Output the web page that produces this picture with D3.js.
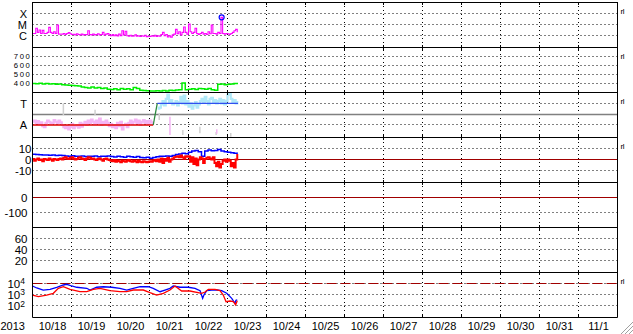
<!DOCTYPE html>
<html>
<head>
<meta charset="utf-8">
<script src="https://cdn.jsdelivr.net/npm/d3@7"></script>
<style>
body { margin: 0; background: #fff; }
svg { display: block; font-family: "Liberation Sans", Arial, sans-serif; }
</style>
</head>
<body>
<svg id="chart" width="633" height="334"></svg>
<script>
// ---- data (times are hours after 2013-10-18 00:00 UT) ----
var yearLabel = "2013";
var dayLabels = ["10/18", "10/19", "10/20", "10/21", "10/22", "10/23", "10/24", "10/25",
    "10/26", "10/27", "10/28", "10/29", "10/30", "10/31", "11/1"];

// x-ray flux, 1 hour steps, units of 1e-6 W/m2
var xrayTicks = [1e-4, 1e-5, 1e-6];
var xrayTickLabels = ["X", "M", "C"];
var xrayFlux = [1.6, 1.6, 4.6, 2.0, 3.2, 1.6, 3.0, 1.6, 1.6, 2.0,
    5.6, 2.0, 1.6, 2.3, 1.6, 9.0, 1.4, 1.34, 1.4, 1.6,
    1.3, 1.6, 1.9, 1.5, 1.3, 1.34, 1.2, 1.5, 1.3, 1.2,
    1.4, 1.2, 1.3, 1.25, 2.8, 1.3, 1.2, 1.4, 1.2, 1.3,
    1.5, 1.2, 1.3, 2.0, 1.2, 1.4, 1.6, 1.2, 1.0, 1.3,
    1.0, 1.2, 0.95, 1.4, 1.0, 2.8, 1.2, 2.5, 1.0, 0.9,
    1.1, 0.9, 0.95, 1.2, 0.9, 1.0, 0.85, 1.0, 0.9, 1.1,
    0.83, 0.9, 0.85, 1.0, 0.9, 1.1, 0.85, 1.0, 0.9, 1.3,
    2.0, 1.0, 1.3, 0.8, 1.0, 0.75, 1.2, 1.4, 3.7, 1.5,
    2.3, 1.2, 2.0, 6.0, 2.0, 1.4, 11, 2.3, 1.6, 2.0,
    4.6, 1.6, 1.3, 1.6, 2.0, 1.4, 1.6, 1.3, 2.3, 1.5,
    9.0, 1.6, 1.6, 1.4, 2.0, 1.6, 43, 1.6, 1.4, 1.6,
    1.5, 1.3, 1.6, 2.0, 2.8, 3.7, 2.0];

// solar wind speed, 2 hour steps
var windTicks = [700, 600, 500, 400];
var windSpeed = [395, 392, 398, 390, 395, 388, 392, 385, 390, 380,
    378, 375, 372, 370, 368, 355, 350, 345, 355, 345,
    350, 340, 345, 330, 328, 335, 325, 340, 330, 335,
    325, 350, 340, 320, 318, 315, 310, 312, 315, 310,
    318, 312, 320, 318, 322, 325, 400, 325, 330, 335,
    328, 340, 335, 330, 338, 325, 320, 385, 390, 380,
    385, 390, 395, 385];

// level panel: A = 1, T = 2
var levelTicks = [2, 1];
var levelTickLabels = ["T", "A"];
var levelMid = 1.5;
var levelHours = [0, 74.3, 76.8, 126.5];
var levelValues = [1, 1, 2, 2];
var pinkStart = 0;   // hourly from here
var pinkValues = [1.15, 1.2, 1.1, 1.18, 1.05, 1.12, 0.95, 0.9, 1.1, 1.2,
    1.15, 1.05, 1.1, 1.22, 1.15, 1.08, 1.2, 1.12, 1.0,
    0.9, 0.85, 0.95, 0.8, 0.9, 1.05, 0.85, 0.95, 1.0, 0.88, 1.1, 0.92, 1.05, 1.15, 1.0,
    1.2, 1.1, 1.25, 1.15, 1.05, 1.2, 1.1, 1.3, 1.0, 1.15, 1.05, 1.2, 1.1, 0.95, 1.05,
    0.9, 1.0, 0.85, 1.1, 0.95, 1.15, 0.8, 1.0, 1.05, 0.9,
    1.1, 1.2, 1.05, 1.15, 1.25, 1.1, 1.2, 1.0, 1.15, 1.22, 1.1, 1.18, 1.05, 1.2, 1.12, 1.0];
var cyanStart = 77;  // hourly from here
var cyanValues = [1.75, 1.8, 1.95, 2.1, 1.9,
    2.2, 2.4, 2.05, 2.15, 1.95,
    2.0, 2.1, 1.9, 2.05, 2.3, 2.0, 2.35, 1.95, 2.1,
    1.85, 2.0, 1.75, 1.9, 2.05, 1.8, 1.95, 2.1,
    2.2, 2.05, 2.3, 2.1, 1.95, 2.2, 2.25, 2.05, 2.15, 2.0,
    2.1, 2.2, 2.0, 2.15, 1.95, 2.1, 2.4, 2.5, 2.2, 2.05, 2.15, 2.0, 2.1];
var grayStrayHours = [19, 38.5, 78, 92.5, 103, 113, 122];
var grayStrayLow = [1.46, 1.45, 1.23, 0.54, 0.62, 0.54, 0.46];
var grayStrayHigh = [2.0, 1.7, 1.55, 0.77, 0.92, 0.68, 0.63];
var pinkStrayHours = [84.6, 113.4];
var pinkStrayLow = [0.54, 0.6];
var pinkStrayHigh = [1.38, 0.8];

// field components: blue 2 hour steps, red 1 hour steps
var fieldTicks = [10, 0, -10];
var fieldBlue = [4.6, 4.5, 4.2, 4.0, 4.0, 3.8, 4.0, 3.6, 3.8, 3.5,
    3.2, 3.0, 3.4, 2.8, 3.0, 3.2, 2.6, 3.0, 2.8, 3.2,
    2.5, 3.0, 2.8, 3.1, 2.6, 2.2, 3.0, 2.5, 2.0, 2.8,
    2.4, 2.0, 2.6, 1.8, 1.5, 2.0, 1.2, 1.8, 2.5, 3.0,
    2.8, 3.2, 3.0, 3.5, 4.5, 5.0, 5.5, 5.2, 6.5, 7.5,
    8.0, 7.0, 3.0, 7.5, 8.5, 7.8, 8.0, 8.8, 7.5, 7.0,
    6.5, 6.0, 5.5, 5.2];
var fieldRed = [0.5, -1, 0, 1, -0.5, 0, -1.5, 0.5, 0, -0.5, 1, 0, -1, 0.5, 0, -0.5, 0.5, 1, 0,
    1.5, 2, 1, 0.5, 1.5, 2, 1, 0, 0.5, 1.5, 2, 1, 0.5, -0.5, 1, 2, 1.5, 0.5, 1, 0, -0.5, 0.5, 1, 0, -1, 0.5, 1, 0, -0.5,
    -1, -1.5, -0.5, -2, -1, -1.5, -2.5, -1, -1.5, -2, -1, -0.5, -1.5, -2, -1, -1.5, -2.5, -1,
    -2, -2.5, -1.5, -2, -2.5, -2, -1.5, -2, -1, -0.5, -1.5,
    0, -2, 1, -3, 0.5, -1, 1.5, -2, 0, 1, 2,
    2.5, 3, 2, 3.5, 2, 1, 3, 2.5,
    3, -2, 2, -4, 1, -5, 0, 2,
    1, -3, 0.5, 1.5, 2, 1, 0, 2,
    -3, -6, -2, -7, -4, -1,
    0, -2, 0, -1,
    -6, -3, -7, 0, 5];

var dstTicks = [0, -100];
var p6Ticks = [60, 40, 20];

// particle flux (log)
var fluxTicks = [1e4, 1e3, 1e2];
var fluxThreshold = 1e4;
var fluxBlueHours = [0, 2.6, 6.6, 10.8, 14.9, 19, 21, 24.1, 27.2, 33.4, 35.4, 39.5, 43.6, 48.7, 53.8,
    58, 62, 66.2, 71.3, 74.3, 78.5, 81.5, 84.6, 86.6, 90.8, 95.9, 100, 103.1, 104.7, 105.5,
    107.2, 110.3, 113.4, 116.4, 119.5, 122.6, 124.6, 125.2, 126];
var fluxBlue = [5700, 3800, 2500, 2900, 4400, 7000, 8100, 5700, 4400, 3560, 2500, 4400, 4900, 4400, 3560,
    2500, 3560, 4900, 4900, 3560, 1770, 2500, 3560, 5700, 4400, 4400, 3560, 2200, 460, 900,
    2200, 2500, 2500, 2200, 1280, 460, 165, 300, 325];
var fluxRedHours = [0, 3.6, 8.7, 12.8, 15.9, 19, 23.1, 29.2, 33.4, 37.4, 41.5, 47.7, 53.8, 58, 62,
    68.2, 72.3, 76.4, 80.5, 84.6, 87.7, 91.8, 96.9, 104.1, 106.2, 108.2, 112.3, 115.4, 117.4,
    119.1, 121.5, 123.6, 125, 126];
var fluxRed = [900, 640, 900, 1280, 3560, 4900, 2900, 1770, 1770, 2900, 3560, 2200, 1770, 1770, 2500,
    2500, 1445, 900, 1280, 2500, 5700, 2050, 2050, 1280, 1670, 2900, 2900, 2200, 900,
    230, 265, 230, 117, 280];

// ---- layout ----
var svg = d3.select("#chart");
var plotLeft = 32.5, plotRight = 617.5, plotTop = 2, panelH = 45, nPanels = 7;
var t0 = Date.UTC(2013, 9, 18), t1 = Date.UTC(2013, 10, 2);
var x = d3.scaleUtc().domain([new Date(t0), new Date(t1)]).range([plotLeft, plotRight]);
var plotBottom = plotTop + panelH * nPanels;

function hourDate(h) { return new Date(t0 + h * 3600000); }
function crisp(v) { return Math.round(v - 0.5) + 0.5; }

var panels = [
    { scale: d3.scaleLog().domain([1e-7, 1e-3]), ticks: xrayTicks, labels: xrayTickLabels, right: 27, size: 11, tag: true },
    { scale: d3.scaleLinear().domain([300, 800]), ticks: windTicks, right: 31.5, size: 7.7, spacing: 1.6, tag: true },
    { scale: d3.scaleLinear().domain([0.447, 2.52]), ticks: levelTicks, labels: levelTickLabels, right: 27, size: 11, tag: true },
    { scale: d3.scaleLinear().domain([-20, 20]), ticks: fieldTicks, right: 31.5, size: 11.5, tag: true, zero: true },
    { scale: d3.scaleLinear().domain([-200, 100]), ticks: dstTicks, right: 27.5, size: 11.5, zero: true },
    { scale: d3.scaleLinear().domain([0, 80]), ticks: p6Ticks, right: 27.5, size: 11.5 },
    { scale: d3.scaleLog().domain([10, 1e5]), ticks: fluxTicks, right: 25, size: 11.5, log: true, tag: true }
];
panels.forEach(function (p, i) {
    p.top = plotTop + i * panelH;
    p.y = p.scale.range([p.top + panelH, p.top]);
    svg.append("clipPath").attr("id", "clip" + i)
        .append("rect").attr("x", plotLeft).attr("y", p.top + 0.5)
        .attr("width", plotRight - plotLeft).attr("height", panelH);
});

var days = d3.range(1, 15).map(function (k) { return new Date(t0 + k * 86400000); });

// vertical dotted day lines
svg.append("g").selectAll("line").data(days).enter().append("line")
    .attr("x1", function (d) { return crisp(x(d)); })
    .attr("x2", function (d) { return crisp(x(d)); })
    .attr("y1", plotTop).attr("y2", plotBottom)
    .attr("stroke", "#000").attr("stroke-dasharray", "1,3");

// horizontal grid and labels per panel
panels.forEach(function (p, i) {
    var g = svg.append("g");
    g.selectAll("line").data(p.ticks.filter(function (t) { return !(p.zero && t === 0); }))
        .enter().append("line")
        .attr("x1", plotLeft).attr("x2", plotRight)
        .attr("y1", function (t) { return crisp(p.y(t)); })
        .attr("y2", function (t) { return crisp(p.y(t)); })
        .attr("stroke", "#000").attr("stroke-dasharray", "1,3");
    if (p.zero) {
        g.append("line").attr("x1", plotLeft).attr("x2", plotRight)
            .attr("y1", crisp(p.y(0))).attr("y2", crisp(p.y(0)))
            .attr("stroke", "#a00000");
    }

    var ax = svg.append("g").attr("transform", "translate(" + p.right + ",0)")
        .call(d3.axisLeft(p.y).tickValues(p.ticks).tickSize(0).tickPadding(0)
            .tickFormat(function (d, k) {
                if (p.log) return "";
                return p.labels ? p.labels[k] : d;
            }));
    ax.select(".domain").remove();
    ax.attr("font-family", null).attr("font-size", p.size);
    ax.selectAll("text").attr("fill", "#000").attr("dy", "0.36em");
    if (p.spacing) ax.selectAll("text").attr("letter-spacing", p.spacing);
    if (p.log) {
        ax.selectAll("text").each(function (d) {
            var t = d3.select(this);
            t.append("tspan").text("10");
            t.append("tspan").attr("dy", "-0.45em").attr("font-size", 8.5).text(Math.round(Math.log10(d)));
        });
    }
    if (p.tag) {
        svg.append("text").attr("x", 620.5).attr("y", p.top + 9).attr("dy", "0.35em")
            .attr("font-size", 8).attr("letter-spacing", -0.5).text("rl");
    }
});

// panel 3 background mid line
var pL = panels[2];
svg.append("line").attr("x1", plotLeft).attr("x2", plotRight)
    .attr("y1", crisp(pL.y(levelMid))).attr("y2", crisp(pL.y(levelMid)))
    .attr("stroke", "#808080").attr("stroke-width", 1.5);

// panel 7 threshold
var pF = panels[6];
svg.append("line").attr("x1", plotLeft).attr("x2", plotRight)
    .attr("y1", crisp(pF.y(fluxThreshold))).attr("y2", crisp(pF.y(fluxThreshold)))
    .attr("stroke", "#a00000").attr("stroke-dasharray", "10,4");

function drawSeries(i, hours, vals, color, width, curve) {
    var p = panels[i];
    var line = d3.line()
        .x(function (d) { return x(hourDate(d[0])); })
        .y(function (d) { return p.y(d[1]); })
        .curve(curve || d3.curveLinear);
    svg.append("path")
        .datum(vals.map(function (v, k) { return [hours[k], v]; }))
        .attr("clip-path", "url(#clip" + i + ")")
        .attr("d", line)
        .attr("fill", "none")
        .attr("stroke", color)
        .attr("stroke-width", width);
}
function steps(start, n, dt) { return d3.range(n).map(function (k) { return start + k * dt; }); }

// panel 1: x-ray
var xrayVals = xrayFlux.map(function (v) { return v * 1e-6; });
drawSeries(0, steps(0, xrayVals.length, 1), xrayVals, "#ff00ff", 1.1, d3.curveStepAfter);
var peak = d3.maxIndex(xrayVals);
svg.append("circle").attr("cx", x(hourDate(peak + 0.4))).attr("cy", panels[0].y(xrayVals[peak]))
    .attr("r", 2.5).attr("fill", "none").attr("stroke", "#0000ff").attr("stroke-width", 1.2);

// panel 2: wind
drawSeries(1, steps(0, windSpeed.length, 2), windSpeed, "#00ee00", 1.5, d3.curveStepAfter);

// panel 3: levels
var gS = svg.append("g").attr("clip-path", "url(#clip2)");
gS.selectAll("line.g").data(grayStrayHours).enter().append("line")
    .attr("x1", function (h) { return x(hourDate(h)); }).attr("x2", function (h) { return x(hourDate(h)); })
    .attr("y1", function (h, k) { return pL.y(grayStrayLow[k]); })
    .attr("y2", function (h, k) { return pL.y(grayStrayHigh[k]); })
    .attr("stroke", "#d0d0d0").attr("stroke-width", 1.5);
gS.selectAll("line.p").data(pinkStrayHours).enter().append("line")
    .attr("x1", function (h) { return x(hourDate(h)); }).attr("x2", function (h) { return x(hourDate(h)); })
    .attr("y1", function (h, k) { return pL.y(pinkStrayLow[k]); })
    .attr("y2", function (h, k) { return pL.y(pinkStrayHigh[k]); })
    .attr("stroke", "#f4b4f4").attr("stroke-width", 1.5);
drawSeries(2, steps(pinkStart, pinkValues.length, 1), pinkValues, "#f4b4f4", 2.2, d3.curveStepAfter);
drawSeries(2, steps(cyanStart, cyanValues.length, 1), cyanValues, "#b0e8f8", 2.2, d3.curveStepAfter);
var levelColors = ["#e00000", "#2e8b3e", "#3050f0"];
levelColors.forEach(function (c, k) {
    drawSeries(2, levelHours.slice(k, k + 2), levelValues.slice(k, k + 2), c, 1.3);
});

// panel 4: field
drawSeries(3, steps(0, fieldBlue.length, 2), fieldBlue, "#0000ff", 1.5, d3.curveStepAfter);
drawSeries(3, steps(0, fieldRed.length, 1), fieldRed, "#ff0000", 2, d3.curveStepAfter);

// panel 7: flux
drawSeries(6, fluxBlueHours, fluxBlue, "#0000ff", 1.3);
drawSeries(6, fluxRedHours, fluxRed, "#ff0000", 1.3);

// panel borders, ticks and frame
var bounds = d3.range(nPanels + 1).map(function (k) { return plotTop + k * panelH; });
svg.append("g").selectAll("line").data(bounds).enter().append("line")
    .attr("x1", plotLeft).attr("x2", plotRight)
    .attr("y1", function (b) { return crisp(b); }).attr("y2", function (b) { return crisp(b); })
    .attr("stroke", "#000");
bounds.forEach(function (b) {
    svg.append("g").selectAll("line").data(days).enter().append("line")
        .attr("x1", function (d) { return crisp(x(d)); })
        .attr("x2", function (d) { return crisp(x(d)); })
        .attr("y1", Math.max(plotTop, b - 2)).attr("y2", Math.min(plotBottom, b + 3))
        .attr("stroke", "#000");
});
[plotLeft, plotRight].forEach(function (xx) {
    svg.append("line").attr("x1", xx).attr("x2", xx)
        .attr("y1", plotTop).attr("y2", plotBottom + 0.5).attr("stroke", "#000");
});

// bottom day labels
var noons = dayLabels.map(function (d, k) { return new Date(t0 + (k + 0.5) * 86400000); });
var xAxis = svg.append("g").attr("transform", "translate(0," + plotBottom + ")")
    .call(d3.axisBottom(x).tickValues(noons).tickSize(0).tickPadding(5)
        .tickFormat(function (d, k) { return dayLabels[k]; }));
xAxis.select(".domain").remove();
xAxis.attr("font-family", null).attr("font-size", 11);
xAxis.selectAll("text").attr("fill", "#000");
svg.append("text").attr("x", 0.5).attr("y", 330).attr("font-size", 11).text(yearLabel);

// window resize grip
svg.append("g").selectAll("line").data([0, 4, 8]).enter().append("line")
    .attr("x1", function (o) { return 621 + o; }).attr("y1", 334)
    .attr("x2", 633).attr("y2", function (o) { return 322 + o; })
    .attr("stroke", "#a0a0a0");
</script>
</body>
</html>
